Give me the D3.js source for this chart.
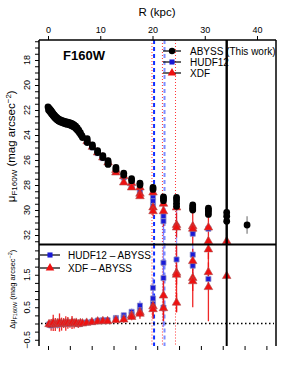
<!DOCTYPE html>
<html><head><meta charset="utf-8">
<script src="https://cdn.jsdelivr.net/npm/d3@7"></script>
<style>body{margin:0;background:#fff}svg{display:block}text{font-family:"Liberation Sans",Arial,Helvetica,sans-serif}</style>
</head><body><svg id="c" width="307" height="385"></svg>
<script>
// ---- data ----
const kpcTicks = [0, 10, 20, 30, 40];
const arcsecTicks = [0,1,2,3,4,5,6,7,8,9,10];
const muLabelTicks = [18, 20, 22, 24, 26, 28, 30, 32];
const dmuLabelTicks = [-0.5, 0.5, 1.5];
const legendTop = ["ABYSS (This work)", "HUDF12", "XDF"];
const legendBottom = ["HUDF12 \u2013 ABYSS", "XDF \u2013 ABYSS"];
const redDottedR = [19.9, 21.9, 24.4];
const blueDashedR = [20.3, 22.3];
const limitR = 34.2;

// ABYSS profile (R kpc, mu)
const abyssR = [0.0,0.2,0.4,0.6,0.8,1.0,1.2,1.4,1.6,1.8,2.0,2.3,2.6,2.9,3.2,3.5,3.8,4.1,4.4,4.7,5.0,5.3,5.6,5.9,6.2,6.5,
  0.1,0.3,0.5,0.7,0.9,1.1,1.3,1.5,1.7,1.9,2.1,2.4,2.7,3.0,3.3,3.6,3.9,4.2,4.5,4.8,5.1,5.4,5.7,6.0,6.3,6.6,
  7.5,7.5,7.5,8.5,8.5,9.5,9.5,10.5,10.5,11.5,11.5,11.5,13.0,13.0,14.5,14.5,16.0,16.0,17.6,17.6,
  20.1,20.1,22.1,22.1,22.1,24.6,24.6,24.6,24.6,27.7,27.7,27.7,27.7,30.7,30.7,30.7,30.7,34.2,34.2,34.2,38.1];
const abyssMu = [21.75,21.85,21.95,22.05,22.18,22.3,22.4,22.5,22.58,22.66,22.72,22.78,22.84,22.88,22.92,22.95,22.98,23.02,23.06,23.12,23.2,23.3,23.44,23.62,23.82,24.05,
  22.0,22.1,22.2,22.32,22.42,22.52,22.62,22.7,22.78,22.84,22.9,22.96,23.0,23.05,23.1,23.13,23.16,23.2,23.26,23.32,23.4,23.52,23.66,23.82,24.0,24.2,
  24.3,24.45,24.6,24.8,24.95,25.25,25.4,25.65,25.8,26.05,26.2,26.35,26.6,26.75,27.05,27.2,27.5,27.65,27.85,28.0,
  28.2,28.35,28.95,29.1,29.25,29.0,29.2,29.45,29.7,29.6,29.75,29.9,30.0,29.85,30.0,30.15,30.35,30.2,30.5,30.9,31.2];
const abyssErr = [0.7]; // error of last (outermost) point

// HUDF12 profile
const hudfR = [7.5,8.5,9.5,10.5,11.5,13.0,14.5,16.0,16.0,17.6,17.6,20.1,20.1,20.1,22.1,22.1,24.6,27.7,27.7,30.7];
const hudfMu = [24.55,25.0,25.45,25.85,26.3,26.9,27.4,27.9,28.05,28.45,28.55,29.0,29.3,29.7,30.5,30.9,31.3,31.6,31.9,31.5];
const hudfErr = [0.05,0.05,0.05,0.06,0.06,0.08,0.1,0.1,0.1,0.15,0.15,0.3,0.4,0.6,1.5,1.8,1.6,0.3,0.3,0.3];

// XDF profile
const xdfR = [7.5,8.5,9.5,10.5,11.5,13.0,13.0,14.5,14.5,16.0,16.0,17.6,17.6,17.6,20.1,20.1,20.1,22.1,22.1,24.6,24.6,24.6,27.7,27.7,30.7,30.7,34.2];
const xdfMu = [24.5,24.95,25.4,25.8,26.2,26.8,27.0,27.3,27.8,27.85,28.2,28.2,28.7,28.9,28.6,29.8,30.1,29.5,30.1,29.8,31.2,31.4,31.3,31.5,31.4,32.5,32.5];
const xdfErr = [0.05,0.05,0.05,0.06,0.06,0.08,0.08,0.1,0.1,0.1,0.1,0.15,0.15,0.15,0.3,0.4,0.4,0.6,1.2,0.3,1.0,0.3,0.3,1.5,1.2,0.3,0.1];

// differences (lower panel)
const dHudfR = [0.2,0.6,1.0,1.4,1.8,2.2,2.6,3.0,3.4,3.8,4.2,4.6,5.0,5.4,5.8,6.2,6.6,
  7.4,8.4,9.5,10.5,11.4,13.0,13.0,14.5,14.5,16.0,16.0,17.6,17.6,20.1,20.1,20.1,22.1,22.1,22.1,24.6,27.7,27.7,30.7];
const dHudf = [-0.03,-0.06,-0.02,0.0,-0.04,0.01,-0.02,0.0,0.02,-0.01,0.01,0.0,0.02,0.01,-0.02,0.0,0.02,
  0.03,0.05,0.09,0.1,0.1,0.17,0.13,0.25,0.18,0.36,0.28,0.55,0.4,1.1,0.77,0.6,1.87,1.4,0.49,1.97,2.12,1.78,1.37];
const dHudfErr = [0.05,0.08,0.06,0.05,0.06,0.05,0.06,0.05,0.04,0.05,0.04,0.05,0.04,0.04,0.04,0.04,0.04,
  0.04,0.04,0.05,0.05,0.05,0.06,0.06,0.08,0.08,0.1,0.1,0.15,0.15,0.3,0.3,0.3,0.5,0.6,0.6,0.4,0.3,0.3,0.3];

const dXdfR = [0.2,0.6,1.0,1.4,1.8,2.2,2.6,3.0,3.4,3.8,4.2,4.6,5.0,5.4,5.8,6.2,6.6,
  7.4,8.4,9.5,10.5,11.4,13.0,14.5,16.0,16.0,17.6,17.6,20.1,20.1,22.1,22.1,24.6,24.6,24.6,27.7,27.7,27.7,30.7,30.7,30.7,30.7,34.2];
const dXdf = [-0.02,-0.04,0.02,-0.03,0.0,0.03,-0.02,0.01,0.0,0.02,-0.01,0.03,0.0,0.02,-0.02,0.01,0.0,
  0.02,0.04,0.06,0.07,0.07,0.1,0.12,0.25,0.2,0.35,0.3,0.53,0.44,0.86,0.47,1.56,0.64,1.5,1.92,1.4,1.3,2.55,2.28,1.58,1.12,1.46];
const dXdfErr = [0.12,0.18,0.25,0.2,0.15,0.28,0.2,0.15,0.22,0.18,0.12,0.2,0.15,0.1,0.12,0.08,0.06,
  0.05,0.05,0.05,0.06,0.06,0.08,0.1,0.1,0.1,0.15,0.15,0.3,0.3,0.6,0.4,1.2,0.3,0.3,0.3,0.9,0.3,0.3,0.3,0.3,1.05,0.05];

// ---- layout ----
const svg = d3.select("#c");
const L = 39, Rt = 276, T = 40, MID = 244.5, B = 346;
const x = d3.scaleLinear().domain([0, 40]).range([48, 257]);
const kpcPerArcsec = 4.18;
const xa = d3.scaleLinear().domain([0, 10]).range([x(0), x(10 * kpcPerArcsec)]);
const yU = d3.scaleLinear().domain([18, 32]).range([60, 235]);
const yL = d3.scaleLinear().domain([0, 1]).range([323.5, 291]);

const BLUE = "#1a1ad6", RED = "#ee1111";

// clip paths
const defs = svg.append("defs");
defs.append("clipPath").attr("id","cu").append("rect").attr("x",L).attr("y",T).attr("width",Rt-L).attr("height",MID-T);
defs.append("clipPath").attr("id","cl").append("rect").attr("x",L).attr("y",MID).attr("width",Rt-L).attr("height",B-MID);

// vertical reference lines
function vlines(g, y0, y1) {
  g.selectAll(".rd").data(redDottedR).join("line").attr("x1",d=>x(d)).attr("x2",d=>x(d)).attr("y1",y0).attr("y2",y1)
    .attr("stroke","#ff3333").attr("stroke-width",1).attr("stroke-dasharray","1,2");
  g.selectAll(".bd").data(blueDashedR).join("line").attr("x1",d=>x(d)).attr("x2",d=>x(d)).attr("y1",y0).attr("y2",y1)
    .attr("stroke",(d,i)=>i===0?"#1030ff":"#7f8fff").attr("stroke-width",2).attr("stroke-dasharray","4,3");
}
const gv = svg.append("g");
vlines(gv.append("g"), T, MID);
vlines(gv.append("g"), MID, B);

// zero line in lower panel
svg.append("line").attr("x1",L+2).attr("x2",Rt-2).attr("y1",yL(0)).attr("y2",yL(0))
  .attr("stroke","#000").attr("stroke-width",1.3).attr("stroke-dasharray","1.5,2.5");

function errbars(g, R, V, E, ys, color, op) {
  g.selectAll(null).data(R.map((r,i)=>[r,V[i],E[i]]).filter(d=>d[2]!==undefined)).join("line")
    .attr("x1",d=>x(d[0])).attr("x2",d=>x(d[0])).attr("y1",d=>ys(d[1]-d[2])).attr("y2",d=>ys(d[1]+d[2]))
    .attr("stroke",color).attr("stroke-width",1.3).attr("opacity",op);
}
const sq = d3.symbol().type(d3.symbolSquare).size(26);
const tri = d3.symbol().type(d3.symbolTriangle).size(32);

// upper panel
const gu = svg.append("g").attr("clip-path","url(#cu)");
errbars(gu, hudfR, hudfMu, hudfErr, yU, "#6060ff", 0.6);
errbars(gu, xdfR, xdfMu, xdfErr, yU, RED, 0.9);
const lastI = abyssR.length - 1;
errbars(gu, [abyssR[lastI]], [abyssMu[lastI]], abyssErr, yU, "#888", 1);
gu.selectAll(".h").data(hudfR.map((r,i)=>[r,hudfMu[i]])).join("path").attr("d",sq)
  .attr("transform",d=>`translate(${x(d[0])},${yU(d[1])})`).attr("fill",BLUE).attr("stroke","#9090c8").attr("stroke-width",0.8);
gu.selectAll(".x").data(xdfR.map((r,i)=>[r,xdfMu[i]])).join("path").attr("d",tri)
  .attr("transform",d=>`translate(${x(d[0])},${yU(d[1])})`).attr("fill",RED).attr("stroke","#b05050").attr("stroke-width",0.6);
gu.selectAll(".a").data(abyssR.map((r,i)=>[r,abyssMu[i]])).join("circle")
  .attr("cx",d=>x(d[0])).attr("cy",d=>yU(d[1])).attr("r",3.4).attr("fill","#000");

// lower panel
const gl = svg.append("g").attr("clip-path","url(#cl)");
errbars(gl, dHudfR, dHudf, dHudfErr, yL, "#5050ff", 0.6);
errbars(gl, dXdfR, dXdf, dXdfErr, yL, RED, 0.9);
gl.selectAll(".h").data(dHudfR.map((r,i)=>[r,dHudf[i]])).join("path").attr("d",sq)
  .attr("transform",d=>`translate(${x(d[0])},${yL(d[1])})`).attr("fill",BLUE).attr("stroke","#9090c8").attr("stroke-width",0.8);
gl.selectAll(".x").data(dXdfR.map((r,i)=>[r,dXdf[i]])).join("path").attr("d",tri)
  .attr("transform",d=>`translate(${x(d[0])},${yL(d[1])})`).attr("fill",RED).attr("stroke","#b05050").attr("stroke-width",0.6);

// frame
svg.append("line").attr("x1",x(limitR)).attr("x2",x(limitR)).attr("y1",T).attr("y2",B).attr("stroke","#000").attr("stroke-width",2);
svg.append("line").attr("x1",L).attr("x2",Rt).attr("y1",T).attr("y2",T).attr("stroke","#000").attr("stroke-width",1.5);
svg.append("line").attr("x1",L).attr("x2",Rt).attr("y1",MID).attr("y2",MID).attr("stroke","#000").attr("stroke-width",1.8);
svg.append("line").attr("x1",L).attr("x2",L).attr("y1",T).attr("y2",B).attr("stroke","#000").attr("stroke-width",1.5);
svg.append("line").attr("x1",Rt).attr("x2",Rt).attr("y1",T).attr("y2",B).attr("stroke","#000").attr("stroke-width",1.5);

// top axis
const ax = svg.append("g").attr("transform",`translate(0,${T})`).call(d3.axisTop(x).tickValues(kpcTicks).tickSize(4).tickPadding(3));
ax.select(".domain").remove();
ax.selectAll("text").attr("font-size",9).attr("font-family","Liberation Sans, Arial, sans-serif");
svg.append("text").attr("x",157).attr("y",16).attr("text-anchor","middle").attr("font-size",11.5).text("R (kpc)");

// bottom ticks
const bx = svg.append("g").attr("transform",`translate(0,${B})`).call(d3.axisBottom(xa).tickValues(arcsecTicks).tickSize(4).tickFormat(""));
bx.select(".domain").remove();

// left axis upper
const yuTicks = d3.range(16.5, 32.51, 0.5);
const au = svg.append("g").attr("transform",`translate(${L},0)`).call(d3.axisLeft(yU).tickValues(yuTicks).tickSize(4).tickFormat(""));
au.select(".domain").remove();
svg.selectAll(".ulab").data(muLabelTicks).join("text").attr("font-size",9)
  .attr("transform",d=>`translate(${L-9},${yU(d)}) rotate(-90)`).attr("text-anchor","middle").text(d=>d);
// left axis lower
const ylTicks = d3.range(-0.5, 2.26, 0.25);
const al = svg.append("g").attr("transform",`translate(${L},0)`).call(d3.axisLeft(yL).tickValues(ylTicks).tickSize(4).tickFormat(""));
al.select(".domain").remove();
svg.selectAll(".llab").data(dmuLabelTicks).join("text").attr("font-size",9)
  .attr("transform",d=>`translate(${L-9},${yL(d)}) rotate(-90)`).attr("text-anchor","middle").text(d=>d.toFixed(1).replace("-","\u2212"));

// axis titles
const t1 = svg.append("text").attr("transform",`translate(15,${(T+MID)/2+4}) rotate(-90)`).attr("text-anchor","middle").attr("font-size",11.5);
t1.append("tspan").text("\u03BC");
t1.append("tspan").attr("font-size",8).attr("dy",2).text("F160W");
t1.append("tspan").attr("dy",-2).text(" (mag arcsec");
t1.append("tspan").attr("font-size",8).attr("dy",-4.5).text("\u22122");
t1.append("tspan").attr("dy",4.5).text(")");
const t2 = svg.append("text").attr("transform",`translate(15,${(MID+B)/2-6}) rotate(-90)`).attr("text-anchor","middle").attr("font-size",7.5);
t2.append("tspan").text("\u0394\u03BC");
t2.append("tspan").attr("font-size",5.5).attr("dy",1.5).text("F160W");
t2.append("tspan").attr("dy",-1.5).text(" (mag arcsec");
t2.append("tspan").attr("font-size",5.5).attr("dy",-3).text("\u22122");
t2.append("tspan").attr("dy",3).text(")");

// filter label
svg.append("text").attr("x",63).attr("y",60).attr("font-size",13).attr("font-weight","bold").text("F160W");

// top legend
const lg = svg.append("g");
legendTop.forEach((s,i)=>{
  const yy = 51 + i*11;
  lg.append("line").attr("x1",163).attr("x2",181).attr("y1",yy).attr("y2",yy).attr("stroke","#000").attr("stroke-width",1.2);
  if (i===0) lg.append("circle").attr("cx",172).attr("cy",yy).attr("r",3.2).attr("fill","#000");
  if (i===1) lg.append("path").attr("d",sq).attr("transform",`translate(172,${yy})`).attr("fill",BLUE);
  if (i===2) lg.append("path").attr("d",tri).attr("transform",`translate(172,${yy})`).attr("fill",RED);
  lg.append("text").attr("x",190).attr("y",yy+3.5).attr("font-size",10).text(s);
});
// bottom legend
legendBottom.forEach((s,i)=>{
  const yy = 255 + i*13;
  lg.append("line").attr("x1",40).attr("x2",60).attr("y1",yy).attr("y2",yy).attr("stroke","#000").attr("stroke-width",1.2);
  if (i===0) lg.append("path").attr("d",sq).attr("transform",`translate(50,${yy})`).attr("fill",BLUE);
  else lg.append("path").attr("d",tri).attr("transform",`translate(50,${yy})`).attr("fill",RED);
  lg.append("text").attr("x",68).attr("y",yy+3.5).attr("font-size",10).text(s);
});
// redraw the limit line over legend text
svg.append("line").attr("x1",x(limitR)).attr("x2",x(limitR)).attr("y1",T).attr("y2",MID).attr("stroke","#000").attr("stroke-width",2);
</script></body></html>
